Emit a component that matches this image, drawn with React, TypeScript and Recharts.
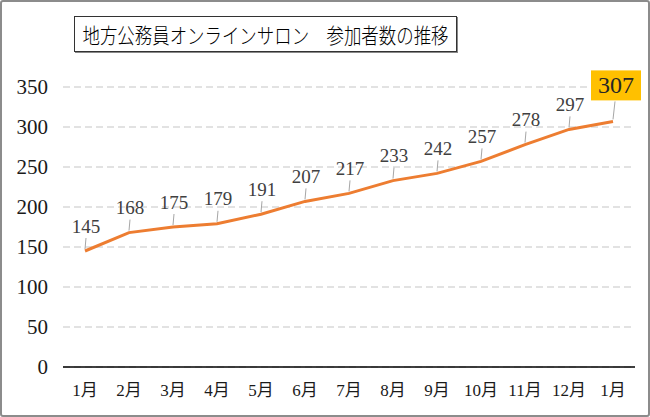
import React from 'react';
import { LineChart, Line, XAxis, YAxis, CartesianGrid, LabelList } from 'recharts';

const months = ['1月', '2月', '3月', '4月', '5月', '6月', '7月', '8月', '9月', '10月', '11月', '12月', '1月'];
const members = [145, 168, 175, 179, 191, 207, 217, 233, 242, 257, 278, 297, 307];
const yTicks = [0, 50, 100, 150, 200, 250, 300, 350];

const data = months.map((m, i) => ({ month: m, members: members[i] }));

const SERIF = '"Liberation Serif", "DejaVu Serif", "Noto Sans CJK JP", serif';

function PointLabel(props: any) {
  const { x, y, value, index } = props;
  const last = index === members.length - 1;
  if (last) {
    return (
      <g>
        <line x1={x} y1={y - 2} x2={x + 2} y2={y - 20} stroke="#a6a6a6" strokeWidth={1} />
        <rect x={x - 22} y={y - 51} width={50} height={30} fill="#ffc000" />
        <text x={x + 3} y={y - 36} textAnchor="middle" dominantBaseline="central" fontSize={24} fill="#262626" fontFamily={SERIF}>
          {value}
        </text>
      </g>
    );
  }
  return (
    <g>
      <line x1={x} y1={y - 2} x2={x + 1} y2={y - 13} stroke="#a6a6a6" strokeWidth={1} />
      <text x={x + 1} y={y - 25} textAnchor="middle" dominantBaseline="central" fontSize={19} fill="#404040" fontFamily={SERIF}>
        {value}
      </text>
    </g>
  );
}

export default function App() {
  return (
    <div style={{ position: 'absolute', left: 0, top: 0, width: 650, height: 417, background: '#fff' }}>
      <LineChart width={650} height={417} data={data} margin={{ top: 87, right: 15, bottom: 0, left: 0 }}>
        <CartesianGrid vertical={false} stroke="#d9d9d9" strokeWidth={1.5} strokeDasharray="7 4" />
        <XAxis
          dataKey="month"
          height={50}
          padding={{ left: 22, right: 22 }}
          tickLine={false}
          tickSize={0}
          tickMargin={17}
          axisLine={{ stroke: '#000', strokeWidth: 1.5 }}
          tick={{ fontSize: 17, fill: '#1a1a1a', fontFamily: SERIF }}
          interval={0}
        />
        <YAxis
          domain={[0, 350]}
          ticks={yTicks}
          width={63}
          axisLine={false}
          tickLine={false}
          tickSize={0}
          tickMargin={15}
          tick={{ fontSize: 21, fill: '#1a1a1a', fontFamily: SERIF }}
        />
        <Line
          type="linear"
          dataKey="members"
          stroke="#ed7d31"
          strokeWidth={3}
          dot={false}
          isAnimationActive={false}
        >
          <LabelList dataKey="members" content={<PointLabel />} />
        </Line>
      </LineChart>
      <div
        style={{
          position: 'absolute',
          left: 74,
          top: 16,
          width: 383,
          height: 36,
          boxSizing: 'border-box',
          border: '1.5px solid #333',
          boxShadow: '1px 1px 0 #888',
          display: 'flex',
          alignItems: 'center',
          justifyContent: 'center',
          overflow: 'hidden',
          fontFamily: '"Noto Sans CJK JP", sans-serif',
          fontSize: 21,
          fontWeight: 300,
          color: '#000',
          whiteSpace: 'pre',
        }}
      >
        <span style={{ display: 'inline-block', transform: 'scaleX(0.83)' }}>
          {'地方公務員オンラインサロン　参加者数の推移'}
        </span>
      </div>
      <div
        style={{
          position: 'absolute',
          left: 0,
          top: 0,
          width: 650,
          height: 417,
          boxSizing: 'border-box',
          border: '2px solid #8c8c8c',
          borderRadius: 3,
          pointerEvents: 'none',
        }}
      />
    </div>
  );
}
